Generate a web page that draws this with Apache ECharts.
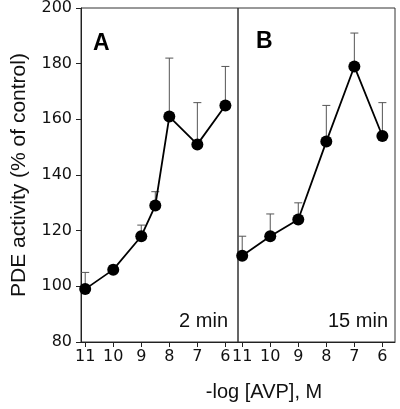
<!DOCTYPE html>
<html>
<head>
<meta charset="utf-8">
<script src="https://cdn.jsdelivr.net/npm/echarts@6/dist/echarts.min.js"></script>
<style>
html,body{margin:0;padding:0;background:#fff;}
#c{width:400px;height:409px;}
</style>
</head>
<body>
<div id="c"></div>
<script>
// Panel A (2 min)
const xA = [11, 10, 9, 8.5, 8, 7, 6];
const yA = [99, 106, 118, 129, 161, 151, 165];
const seA = [6, 1.5, 4, 5, 21, 15, 14];
// Panel B (15 min)
const xB = [11, 10, 9, 8, 7, 6];
const yB = [111, 118, 124, 152, 179, 154];
const seB = [7, 8, 6, 13, 12, 12];
// ticks
const xTicks = [6, 7, 8, 9, 10, 11];
const yTitle = 'PDE activity (% of control)';
const xTitle = '-log [AVP], M';
const panelLabels = ['A', 'B'];
const timeLabels = ['2 min', '15 min'];

const FONT = '"Liberation Sans", Arial, Helvetica, sans-serif';
const TICKFONT = '"DejaVu Sans", "Liberation Sans", Arial, sans-serif';
const chart = echarts.init(document.getElementById('c'), null, {renderer: 'canvas'});

function xAxisDef(gi) {
  return {
    gridIndex: gi, type: 'value', inverse: true, min: 5.55, max: 11.15,
    splitLine: {show: false},
    axisLine: {show: true, onZero: false, lineStyle: {color: '#222', width: 1}},
    axisTick: {show: true, customValues: xTicks, length: 5, lineStyle: {color: '#222'}},
    axisLabel: {show: true, customValues: xTicks, margin: 7, color: '#111',
      fontFamily: TICKFONT, fontSize: 16, formatter: v => String(v)}
  };
}
function errSeries(xs, ys, es, gi) {
  return {
    type: 'custom', xAxisIndex: gi, yAxisIndex: gi, z: 1,
    data: xs.map((x, i) => [x, ys[i], es[i]]),
    encode: {x: 0, y: 1},
    renderItem: function (params, api) {
      const x = api.value(0), y = api.value(1), e = api.value(2);
      const p0 = api.coord([x, y]);
      const p1 = api.coord([x, y + e]);
      const st = {stroke: '#555', lineWidth: 1};
      return {type: 'group', children: [
        {type: 'line', shape: {x1: p0[0], y1: p0[1], x2: p1[0], y2: p1[1]}, style: st},
        {type: 'line', shape: {x1: p1[0] - 4, y1: p1[1], x2: p1[0] + 4, y2: p1[1]}, style: st}
      ]};
    }
  };
}
function lineSeries(xs, ys, gi) {
  return {
    type: 'line', xAxisIndex: gi, yAxisIndex: gi, z: 3,
    data: xs.map((x, i) => [x, ys[i]]),
    symbol: 'circle', symbolSize: 12, showSymbol: true,
    itemStyle: {color: '#000'},
    lineStyle: {color: '#000', width: 1.8},
    animation: false
  };
}

chart.setOption({
  backgroundColor: '#fff',
  animation: false,
  grid: [
    {left: 81, top: 8, width: 157, height: 334, show: true, borderColor: '#333', borderWidth: 1},
    {left: 238, top: 8, width: 157, height: 334, show: true, borderColor: '#333', borderWidth: 1}
  ],
  xAxis: [xAxisDef(0), xAxisDef(1)],
  yAxis: [
    {gridIndex: 0, type: 'value', min: 80, max: 200, interval: 20,
      splitLine: {show: false},
      axisLine: {show: true, lineStyle: {color: '#222'}},
      axisTick: {show: true, length: 5, lineStyle: {color: '#222'}},
      axisLabel: {color: '#111', fontFamily: TICKFONT, fontSize: 16, margin: 9},
      name: yTitle, nameLocation: 'middle', nameGap: 51, nameRotate: 90,
      nameTextStyle: {color: '#111', fontFamily: FONT, fontSize: 21}
    },
    {gridIndex: 1, type: 'value', min: 80, max: 200, interval: 20,
      splitLine: {show: false}, axisLine: {show: false}, axisTick: {show: false}, axisLabel: {show: false}}
  ],
  series: [
    errSeries(xA, yA, seA, 0), lineSeries(xA, yA, 0),
    errSeries(xB, yB, seB, 1), lineSeries(xB, yB, 1)
  ],
  graphic: [
    {type: 'text', left: 93, top: 32, style: {text: panelLabels[0], fontFamily: FONT, fontWeight: 'bold', fontSize: 23, fill: '#000'}},
    {type: 'text', left: 256, top: 30, style: {text: panelLabels[1], fontFamily: FONT, fontWeight: 'bold', fontSize: 23, fill: '#000'}},
    {type: 'text', right: 172, top: 311, style: {text: timeLabels[0], fontFamily: FONT, fontSize: 20, fill: '#111'}},
    {type: 'text', right: 12, top: 311, style: {text: timeLabels[1], fontFamily: FONT, fontSize: 20, fill: '#111'}},
    {type: 'text', x: 264, y: 392, style: {text: xTitle, fontFamily: FONT, fontSize: 20, fill: '#111', align: 'center', verticalAlign: 'middle'}}
  ]
});
</script>
</body>
</html>
